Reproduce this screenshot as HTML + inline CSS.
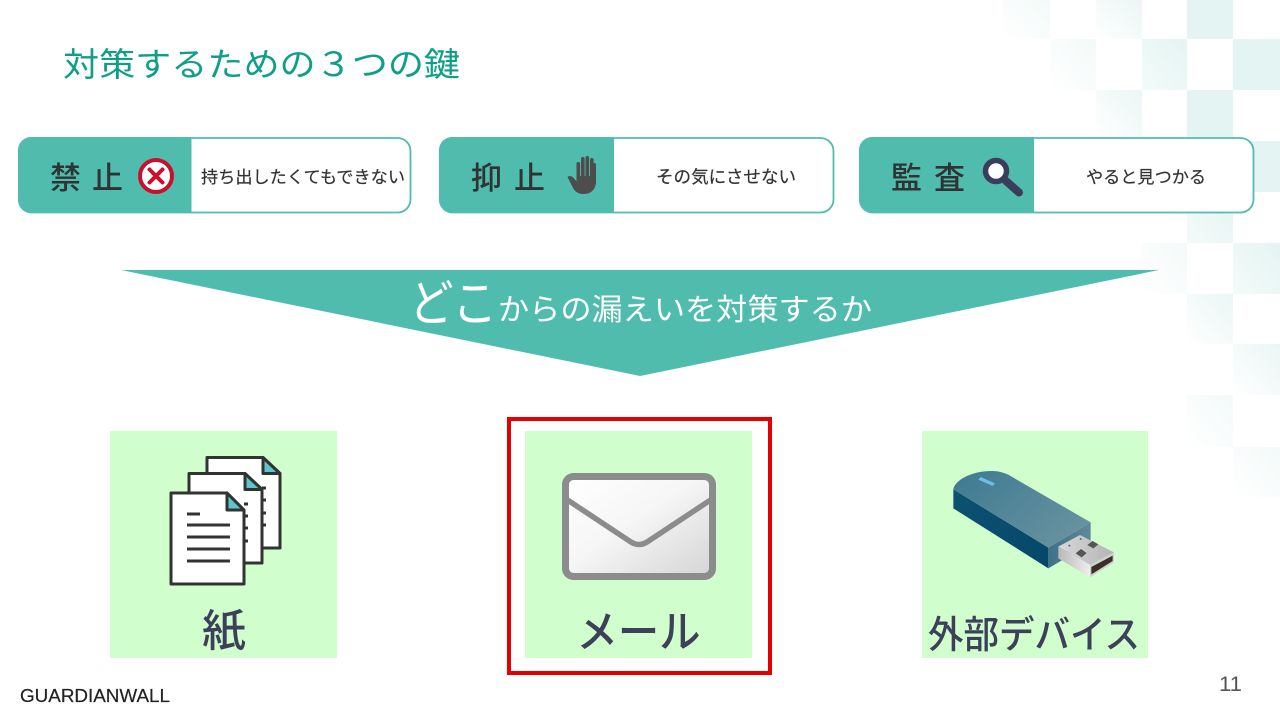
<!DOCTYPE html>
<html lang="ja">
<head>
<meta charset="utf-8">
<title>対策するための&#xFF13;つの鍵</title>
<style>
html,body{margin:0;padding:0;background:#fff;width:1280px;height:720px;overflow:hidden}
svg{display:block}
text{font-family:"Liberation Sans","Noto Sans CJK JP",sans-serif}
.cjk{font-family:"Noto Sans CJK JP","Liberation Sans",sans-serif}
</style>
</head>
<body>
<svg width="1280" height="720" viewBox="0 0 1280 720" xmlns="http://www.w3.org/2000/svg">
<defs>
<linearGradient id="s" x1="1" y1="0" x2="0" y2="1"><stop offset="0" stop-color="#e4f4f2"/><stop offset="1" stop-color="#e4f4f2"/></linearGradient>
<linearGradient id="m" x1="1" y1="0" x2="0" y2="1"><stop offset="0" stop-color="#e4f4f2"/><stop offset="1" stop-color="#f4fbfa"/></linearGradient>
<linearGradient id="f" x1="1" y1="0" x2="0" y2="1"><stop offset="0" stop-color="#eaf6f5"/><stop offset="1" stop-color="#ffffff"/></linearGradient>
<linearGradient id="v" x1="1" y1="0" x2="0" y2="1"><stop offset="0" stop-color="#f3faf9"/><stop offset="1" stop-color="#ffffff"/></linearGradient>
<linearGradient id="env" x1="0" y1="0" x2="1" y2="1"><stop offset="0" stop-color="#ffffff"/><stop offset="0.45" stop-color="#f6f6f6"/><stop offset="1" stop-color="#d4d4d4"/></linearGradient>
<linearGradient id="usbTop" x1="0" y1="0" x2="1" y2="0.6"><stop offset="0" stop-color="#3d7a92"/><stop offset="1" stop-color="#66919f"/></linearGradient>
<linearGradient id="usbSide" x1="0" y1="0" x2="1" y2="0"><stop offset="0" stop-color="#0e5070"/><stop offset="1" stop-color="#06486a"/></linearGradient>
<linearGradient id="usbEnd" x1="0" y1="0" x2="1" y2="0"><stop offset="0" stop-color="#3f7086"/><stop offset="1" stop-color="#5f8a99"/></linearGradient>
<linearGradient id="plug" x1="0" y1="0" x2="1" y2="0"><stop offset="0" stop-color="#d8d8d8"/><stop offset="1" stop-color="#b4b4b4"/></linearGradient>
<linearGradient id="plug2" x1="0" y1="0" x2="1" y2="0"><stop offset="0" stop-color="#b8b8b8"/><stop offset="1" stop-color="#eeeeee"/></linearGradient>
</defs>

<!-- checker background -->
<rect x="1003" y="0" width="47" height="39" fill="url(#v)"/>
<rect x="1096" y="0" width="46" height="39" fill="url(#f)"/>
<rect x="1187" y="0" width="46" height="39" fill="url(#s)"/>
<rect x="1050" y="39" width="46" height="51" fill="url(#v)"/>
<rect x="1142" y="39" width="45" height="51" fill="url(#m)"/>
<rect x="1233" y="39" width="47" height="51" fill="url(#s)"/>
<rect x="1096" y="90" width="46" height="47" fill="url(#f)"/>
<rect x="1187" y="90" width="46" height="47" fill="url(#s)"/>
<rect x="1233" y="141" width="47" height="51" fill="url(#s)"/>
<rect x="1187" y="192" width="46" height="51" fill="url(#m)"/>
<rect x="1142" y="243" width="45" height="51" fill="url(#v)"/>
<rect x="1233" y="243" width="47" height="51" fill="url(#m)"/>
<rect x="1187" y="294" width="46" height="50" fill="url(#f)"/>
<rect x="1233" y="344" width="47" height="51" fill="url(#f)"/>
<rect x="1187" y="395" width="46" height="52" fill="url(#v)"/>
<rect x="1233" y="447" width="47" height="50" fill="url(#v)"/>

<!-- title -->
<text class="cjk" x="63" y="76" font-size="33" fill="#0f9f88" textLength="397" lengthAdjust="spacingAndGlyphs" font-weight="400">対策するための&#xFF13;つの鍵</text>

<!-- box 1 -->
<rect x="19" y="138" width="391.500" height="74.500" rx="13" fill="#fff" stroke="#50bcae" stroke-width="1.800"/>
<path d="M191.500 137H31a13 13 0 0 0-13 13v50a13 13 0 0 0 13 13h160.500z" fill="#50bcae"/>
<text class="cjk" x="50" y="189" font-size="31" fill="#2f3333" font-weight="500">禁</text>
<text class="cjk" x="92" y="189" font-size="31" fill="#2f3333" font-weight="500">止</text>
<circle cx="156" cy="176" r="16" fill="#fff" stroke="#c8102e" stroke-width="4"/>
<path d="M149.500 169.500l13 13M162.500 169.500l-13 13" stroke="#c8102e" stroke-width="4" stroke-linecap="round"/>
<text class="cjk" x="201" y="183" font-size="17" fill="#333" stroke="#333" stroke-width=".2" textLength="204" lengthAdjust="spacingAndGlyphs" font-weight="400">持ち出したくてもできない</text>

<!-- box 2 -->
<rect x="440" y="138" width="393.500" height="74.500" rx="13" fill="#fff" stroke="#50bcae" stroke-width="1.800"/>
<path d="M614 137H452a13 13 0 0 0-13 13v50a13 13 0 0 0 13 13h162z" fill="#50bcae"/>
<text class="cjk" x="471" y="189" font-size="31" fill="#2f3333" font-weight="500">抑</text>
<text class="cjk" x="514" y="189" font-size="31" fill="#2f3333" font-weight="500">止</text>
<g fill="#4d4d4d">
<path d="M567.500 177c2-2 5-1 7 2l2.500 3v-6h19v5c0 8-4.500 13-12.500 13-6 0-9-3-11-7z"/>
<rect x="576.500" y="162" width="3.600" height="22" rx="1.800"/>
<rect x="581" y="157" width="3.600" height="26" rx="1.800"/>
<rect x="585.500" y="156" width="3.600" height="27" rx="1.800"/>
<rect x="590" y="158" width="3.600" height="25" rx="1.800"/>
<rect x="592.500" y="163" width="3.500" height="22" rx="1.700"/>
</g>
<text class="cjk" x="656" y="183" font-size="17.500" fill="#333" stroke="#333" stroke-width=".2" textLength="140" lengthAdjust="spacingAndGlyphs" font-weight="400">その気にさせない</text>

<!-- box 3 -->
<rect x="860" y="138" width="393.500" height="74.500" rx="13" fill="#fff" stroke="#50bcae" stroke-width="1.800"/>
<path d="M1034 137H872a13 13 0 0 0-13 13v50a13 13 0 0 0 13 13h162z" fill="#50bcae"/>
<text class="cjk" x="891" y="189" font-size="31" fill="#2f3333" font-weight="500">監</text>
<text class="cjk" x="934" y="189" font-size="31" fill="#2f3333" font-weight="500">査</text>
<circle cx="996" cy="171" r="10.500" fill="#fff" stroke="#3a3d5c" stroke-width="5.500"/>
<path d="M1006 181l13 11.500" stroke="#3a3d5c" stroke-width="8" stroke-linecap="round"/>
<text class="cjk" x="1086" y="183" font-size="17" fill="#333" stroke="#333" stroke-width=".2" textLength="120" lengthAdjust="spacingAndGlyphs" font-weight="400">やると見つかる</text>

<!-- banner -->
<polygon points="121,270 1159,270 640,376" fill="#50bcae"/>
<text class="cjk" x="409" y="321" font-size="50" fill="#fff" textLength="88" lengthAdjust="spacingAndGlyphs" font-weight="400">どこ</text>
<text class="cjk" x="498" y="320" font-size="30" fill="#fff" textLength="374" lengthAdjust="spacingAndGlyphs" font-weight="400">からの漏えいを対策するか</text>

<!-- green squares -->
<rect x="110" y="431" width="227" height="227" fill="#d0fecd"/>
<rect x="525" y="431" width="227" height="227" fill="#d0fecd"/>
<rect x="922" y="431" width="226" height="227" fill="#d0fecd"/>
<rect x="509" y="419" width="261" height="254" fill="none" stroke="#e60000" stroke-width="4"/>

<!-- documents -->
<g stroke="#333" stroke-width="3" stroke-linejoin="round" fill="#fff">
<path d="M207 457.500h56l17 16V548h-73z"/>
<path d="M263 457.500v16h17z" fill="#5cc6cc"/>
<path d="M189 473.500h56l17 16V563h-73z"/>
<path d="M245 473.500v16h17z" fill="#5cc6cc"/>
<path d="M171 493h56l17 17V584h-73z"/>
<path d="M227 493v17h17z" fill="#5cc6cc"/>
<path d="M187 514h13M187 525h43M187 537h43M187 549h43M187 561h43M244 504h4M244 516h4M244 528h4M244 541h4M262 488h4M262 500h4M262 513h4M262 525h4" fill="none"/>
</g>
<text class="cjk" x="224" y="646" font-size="44" fill="#3c4159" text-anchor="middle" font-weight="500">紙</text>

<!-- envelope -->
<rect x="565.500" y="476.500" width="147" height="100" rx="8" fill="url(#env)" stroke="#8c8c8c" stroke-width="7"/>
<path d="M566 499l65 43q8 5 16 0l65-43" fill="none" stroke="#8c8c8c" stroke-width="5.500"/>
<text class="cjk" x="638.500" y="647" font-size="44" fill="#3c4159" text-anchor="middle" textLength="124" lengthAdjust="spacingAndGlyphs" font-weight="500">メール</text>

<!-- USB -->
<g transform="translate(910 425) scale(.33333)">
<path d="M130 193V250L415 430V368z" fill="url(#usbSide)"/>
<path d="M415 368L542 292V355L415 430z" fill="url(#usbEnd)"/>
<path d="M130 193C135 165 185 138 245 138C270 138 290 145 310 158L542 292L415 368z" fill="url(#usbTop)"/>
<path d="M212 156L255 175L248 183L205 164z" fill="#6cc0e4"/>
<path d="M445 365L510 330L612 382L540 420z" fill="url(#plug)"/>
<path d="M445 365L540 420V457L445 400z" fill="url(#plug2)"/>
<path d="M540 420L612 382V412L540 457z" fill="#d0d0d0"/>
<path d="M544 426L608 392V408L544 448z" fill="#3a3028"/>
<path d="M548 348L565 358L550 370L532 360zM513 372L530 384L515 397L497 385z" fill="#555"/>
<circle cx="478" cy="362" r="3" fill="#666"/><circle cx="512" cy="342" r="3" fill="#666"/>
</g>
<text class="cjk" x="1034" y="648" font-size="38" fill="#3c4159" text-anchor="middle" textLength="212" lengthAdjust="spacingAndGlyphs" font-weight="500">外部デバイス</text>

<!-- footer -->
<text x="20" y="702" font-size="18" fill="#222" stroke="#222" stroke-width=".2" textLength="150" lengthAdjust="spacingAndGlyphs">GUARDIANWALL</text>
<text x="1219" y="691" font-size="21" fill="#555" textLength="23" lengthAdjust="spacingAndGlyphs">11</text>
</svg>
</body>
</html>
